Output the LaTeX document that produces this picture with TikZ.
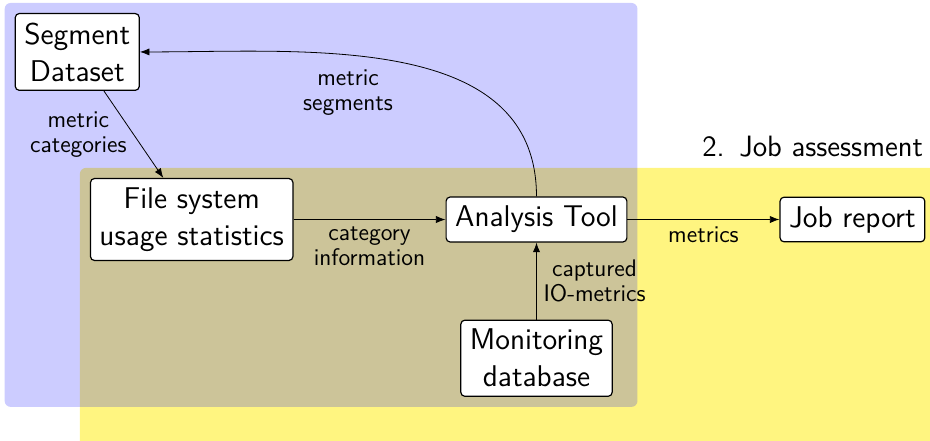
\documentclass[tikz,border=0pt]{standalone}
\usetikzlibrary{arrows.meta, positioning, fit, backgrounds, calc}
\definecolor{PhaseYellow}{RGB}{255,245,128}

\begin{document}
\sffamily
\begin{tikzpicture}[
    node distance=38.5pt and 76pt,
    block/.style={draw, rounded corners=2pt, fill=white, font=\fontsize{15}{18.5}\selectfont, align=center, inner sep=4.5pt, line width=0.6pt},
    flow/.style={-Latex},
    note/.style={font=\fontsize{12}{12.5}\selectfont, align=center},
    phase/.style={rounded corners=3pt, inner sep=5pt}
  ]
  \useasboundingbox (-268.25pt,-110.25pt) rectangle (196.75pt,109.75pt);

  \node (analysis) [block] {Analysis Tool};
  \node (files) [block, left=of analysis] {File system\\usage statistics};
  \node (report) [block, right=of analysis] {Job report};
  \node (monitor) [block, below=of analysis] {Monitoring\\database};
  \node (segments) [block, above left=43.5pt and -25pt of files] {Segment\\Dataset};

  \node (assesslabel) [font=\fontsize{14.7}{18}\selectfont, inner sep=1pt, above=18.5pt of report.north east, anchor=south east] {2.\enspace Job assessment};

  % the two phases behind the boxes
  \begin{scope}[on background layer]
    \fill[PhaseYellow, rounded corners=3pt] ($(files.north west)+(-5pt,5pt)$) rectangle ++(500pt,-300pt);
    \node (phaseone) [fit=(segments)(analysis)(monitor), phase, fill=blue, fill opacity=0.2] {};
  \end{scope}

  \draw[flow] (segments) -- node[note, left] {metric\\categories} (files);
  \draw[flow] (files) -- node[note, below] {category\\information} (analysis);
  \draw[flow] (analysis) -- node[note, below] {metrics} (report);
  \draw[flow] (monitor) -- node[note, right] {captured\\IO-metrics} (analysis);
  \draw[flow] (analysis.north) to[out=90, in=0] node[note, below left] {metric\\segments} (segments.east);
\end{tikzpicture}
\end{document}
